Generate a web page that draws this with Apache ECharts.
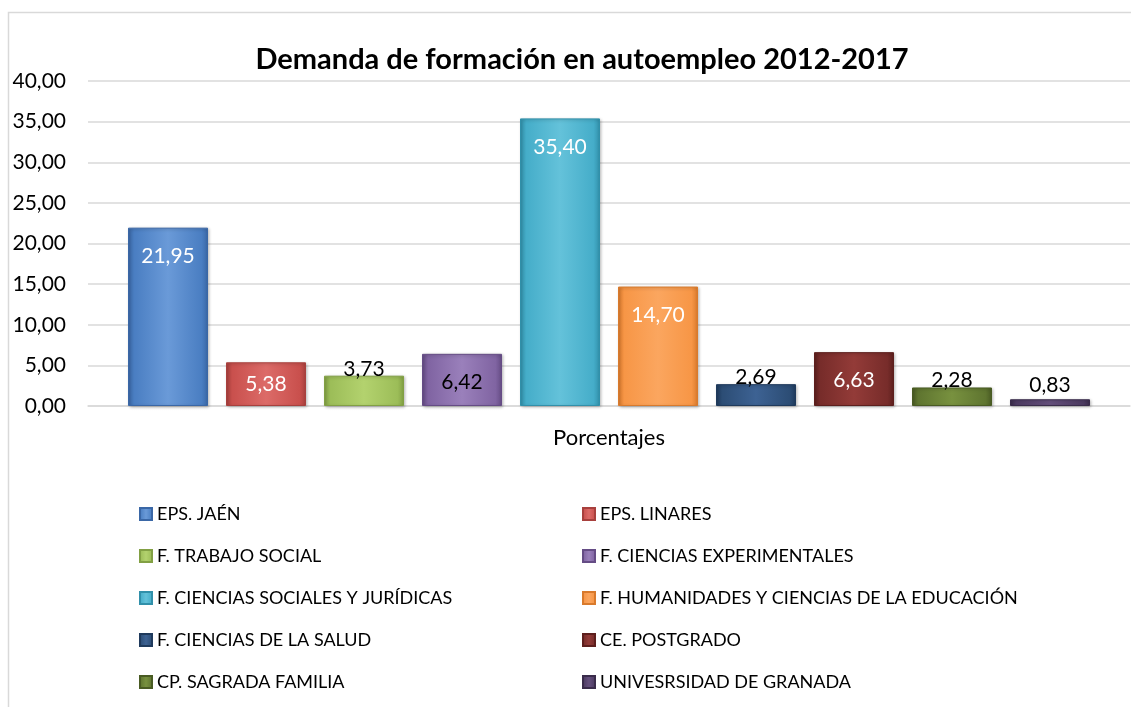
<!DOCTYPE html>
<html>
<head>
<meta charset="utf-8">
<script src="https://cdn.jsdelivr.net/npm/echarts@6/dist/echarts.min.js"></script>
<style>
html,body{margin:0;padding:0;background:#fff;}
#chart{width:1131px;height:707px;}
</style>
</head>
<body>
<div id="chart"></div>
<script>
const categories = ['Porcentajes'];
const seriesNames = [
  'EPS. JAÉN',
  'EPS. LINARES',
  'F. TRABAJO SOCIAL',
  'F. CIENCIAS EXPERIMENTALES',
  'F. CIENCIAS SOCIALES Y JURÍDICAS',
  'F. HUMANIDADES Y CIENCIAS DE LA EDUCACIÓN',
  'F. CIENCIAS DE LA SALUD',
  'CE. POSTGRADO',
  'CP. SAGRADA FAMILIA',
  'UNIVESRSIDAD DE GRANADA'
];
const seriesValues = [21.95, 5.38, 3.73, 6.42, 35.40, 14.70, 2.69, 6.63, 2.28, 0.83];
const yMin = 0, yMax = 40, yStep = 5;

// styles
const baseColors = [
  ['#6a9ad8','#4a7ec2','#3a67a6'],
  ['#dc6b68','#c9504d','#a8403d'],
  ['#b3d26e','#9cbd58','#82a044'],
  ['#9a80bb','#8064a2','#654c85'],
  ['#64c2da','#45adc9','#3190aa'],
  ['#fba65f','#f79646','#d97a2c'],
  ['#3d6293','#2c4d75','#1f3a5c'],
  ['#933b38','#772c2a','#5d1f1d'],
  ['#78913f','#5f7530','#495b23'],
  ['#65507d','#4d3b62','#3a2c4b']
];
const labelPos = ['insideTop','inside','top','insideTop','insideTop','insideTop','top','insideTop','top','top'];
const labelDist = [18, 5, -4, 18, 18, 18, -4, 18, -3, 4];
const labelColor = ['#fff','#fff','#000','#000','#fff','#fff','#000','#fff','#000','#000'];

const FONT = 'Lato, "Open Sans", sans-serif';
const fmt = v => Number(v).toFixed(2).replace('.', ',');

const series = seriesNames.map((name, i) => ({
  name: name,
  type: 'bar',
  data: [seriesValues[i]],
  barWidth: 80,
  barGap: '22.5%',
  itemStyle: {
    color: {
      type: 'linear', x: 0, y: 0, x2: 1, y2: 0,
      colorStops: [
        {offset: 0, color: baseColors[i][2]},
        {offset: 0.08, color: baseColors[i][1]},
        {offset: 0.5, color: baseColors[i][0]},
        {offset: 0.92, color: baseColors[i][1]},
        {offset: 1, color: baseColors[i][2]}
      ]
    },
    borderColor: baseColors[i][2],
    borderWidth: 1,
    shadowColor: 'rgba(0,0,0,0.25)',
    shadowBlur: 3,
    shadowOffsetX: 1,
    shadowOffsetY: 1
  },
  label: {
    show: true,
    position: labelPos[i],
    distance: labelDist[i],
    color: labelColor[i],
    fontFamily: FONT,
    fontSize: 21,
    formatter: p => fmt(p.value)
  },
  emphasis: {disabled: true}
}));

const legendCommon = {
  orient: 'vertical', top: 505, padding: 0,
  itemWidth: 12, itemHeight: 12, itemGap: 24,
  icon: 'rect',
  textStyle: {fontFamily: FONT, fontSize: 18, color: '#000'},
  selectedMode: false
};

const chart = echarts.init(document.getElementById('chart'), null, {renderer: 'canvas'});
chart.setOption({
  animation: false,
  backgroundColor: '#fff',
  title: {
    text: 'Demanda de formación en autoempleo 2012-2017',
    left: 577,
    textAlign: 'center',
    top: 40,
    textStyle: {fontFamily: FONT, fontSize: 29, fontWeight: 'bold', color: '#000'}
  },
  graphic: [{
    type: 'rect',
    shape: {x: 8.5, y: 12.5, width: 1300, height: 900},
    style: {fill: 'none', stroke: '#d9d9d9', lineWidth: 1.5},
    silent: true
  }],
  grid: {left: 88, right: 1, top: 81, bottom: 301, containLabel: false},
  xAxis: {
    type: 'category',
    data: categories,
    axisLine: {show: true, lineStyle: {color: '#d9d9d9', width: 1.5}},
    axisTick: {show: false},
    axisLabel: {fontFamily: FONT, fontSize: 22, color: '#000', margin: 21}
  },
  yAxis: {
    type: 'value',
    min: yMin, max: yMax, interval: yStep,
    axisLine: {show: false},
    axisTick: {show: false},
    splitLine: {lineStyle: {color: '#d9d9d9', width: 1.5}},
    axisLabel: {fontFamily: FONT, fontSize: 21, color: '#000', margin: 22, formatter: fmt}
  },
  legend: [
    Object.assign({data: seriesNames.filter((_, i) => i % 2 === 0), left: 139}, legendCommon),
    Object.assign({data: seriesNames.filter((_, i) => i % 2 === 1), left: 582}, legendCommon)
  ],
  series: series
});
</script>
</body>
</html>
